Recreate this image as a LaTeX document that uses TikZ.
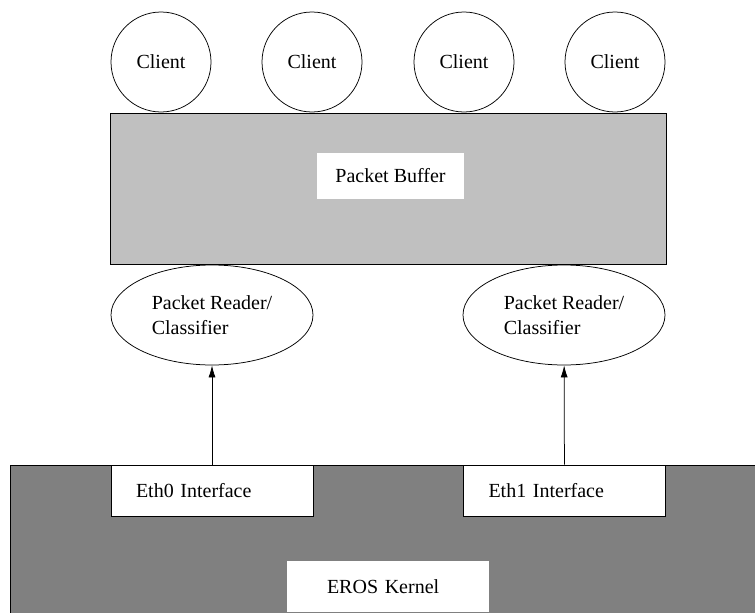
\documentclass[tikz,border=0pt]{standalone}
\usepackage{fontspec}
\setmainfont{Liberation Serif}
\usepackage{tikz}
\usetikzlibrary{shapes,arrows.meta,positioning}
\definecolor{buffergray}{RGB}{192,192,192}
\definecolor{kernelgray}{RGB}{128,128,128}

\begin{document}
\begin{tikzpicture}[x=1pt, y=-1pt, font=\fontsize{20}{25}\selectfont, line width=0.75pt]
		\tikzstyle{Client}	= [circle, draw, minimum size=100pt, inner sep=0pt]
		\tikzstyle{Reader}	= [ellipse, draw, minimum width=202pt, minimum height=100pt, inner sep=0pt, align=left]
		\tikzstyle{Iface}	= [rectangle, draw, fill=white, minimum height=51pt, text width=152pt, inner xsep=25pt, inner ysep=0pt, align=left]
		\tikzstyle{Label}	= [rectangle, fill=white, inner ysep=0pt]
		\tikzstyle{Flow}	= [-{Latex[length=12pt, width=7pt]}]

		\useasboundingbox (0, 0) rectangle (755, 613);
		\clip (0, 0) rectangle (755, 613);

		% kernel along the bottom, runs off the page
		\node (kernel) at (10, 465) [anchor=north west, rectangle, draw, fill=kernelgray, minimum width=760pt, minimum height=160pt]{};
		\node (eth0) at (212, 490.5) [Iface]{Eth0 Interface};
		\node (eth1) at (564.5, 490.5) [Iface]{Eth1 Interface};
		\node (kname) at (388, 586.5) [Label, minimum height=51pt, text width=122pt, inner xsep=40pt, align=left]{EROS Kernel};

		% readers
		\node (reader0) at (212, 315) [Reader]{Packet Reader/\\Classifier};
		\node (reader1) at (564, 315) [Reader]{Packet Reader/\\Classifier};

		% shared buffer
		\node (buffer) at (388, 188.5) [rectangle, draw, fill=buffergray, minimum width=556pt, minimum height=151pt]{};
		\node (bname) at (390.5, 176) [Label, minimum width=147pt, minimum height=46pt]{Packet Buffer};

		% clients
		\node (client1) at (161, 62) [Client]{Client};
		\node (client2) at (312, 62) [Client]{Client};
		\node (client3) at (464, 62) [Client]{Client};
		\node (client4) at (615, 62) [Client]{Client};

		\draw (eth0) to (reader0) [Flow];
		\draw (eth1) to (reader1) [Flow];
	\end{tikzpicture}
\end{document}
